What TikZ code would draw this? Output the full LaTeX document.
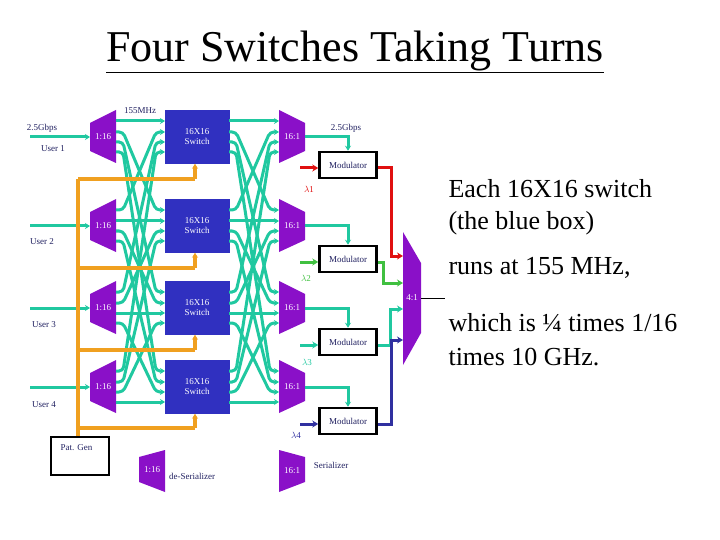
\documentclass[tikz,border=0pt]{standalone}
\usepackage{fontspec}
\setmainfont{Liberation Serif}
\usetikzlibrary{calc,arrows.meta}
\definecolor{teal2}{HTML}{20C8A0}
\definecolor{purp}{HTML}{8A10C8}
\definecolor{sbox}{HTML}{3030C0}
\definecolor{orng}{HTML}{F0A020}
\definecolor{redl}{HTML}{E01010}
\definecolor{grnl}{HTML}{40C040}
\definecolor{blul}{HTML}{3030A0}
\definecolor{navy}{HTML}{202060}
\tikzset{
 tl/.style={teal2,line width=3pt,rounded corners=4pt,-{Stealth[length=5pt,width=6pt]}},
 ol/.style={orng,line width=3.5pt},
 swbox/.style={fill=sbox,draw=sbox,minimum width=64pt,minimum height=53pt,text=white,font=\fontsize{9}{10}\selectfont,align=center,inner sep=0},
 modbox/.style={draw=black,line width=2.5pt,fill=white,minimum width=57pt,minimum height=26pt,text=navy,font=\fontsize{9}{10}\selectfont,inner sep=0},
 lbl/.style={text=navy,font=\fontsize{9}{10}\selectfont},
 big/.style={font=\fontsize{26}{28}\selectfont},
 cl/.style={line width=3pt,-{Stealth[length=6pt,width=7pt]}}
}
\begin{document}
\begin{tikzpicture}[x=1pt,y=-1pt]
\useasboundingbox (0,0) rectangle (720,540);
\node[font=\fontsize{44}{48}\selectfont] (title) at (355,52) {\underline{Four Switches Taking Turns}};
\foreach \i/\c in {1/137,2/226,3/308,4/387}{
  \fill[purp] (90,\c-14) -- (116,\c-27) -- (116,\c+26) -- (90,\c+14) -- cycle;
  \node[text=white,font=\fontsize{9}{10}\selectfont] (dm\i) at (103,\c) {1:16};
  \fill[purp] (279,\c-27) -- (305,\c-14) -- (305,\c+14) -- (279,\c+26) -- cycle;
  \node[text=white,font=\fontsize{9}{10}\selectfont] (mx\i) at (292,\c) {16:1};
  \node[swbox] (sw\i) at (197,\c) {16X16\\Switch};
  \foreach \j/\o in {1/-16,2/-5,3/5,4/15}{
    \coordinate (d\i o\j) at (116,\c+\o);
    \coordinate (s\i i\j) at (165,\c+\o);
    \coordinate (s\i o\j) at (229,\c+\o);
    \coordinate (m\i i\j) at (279,\c+\o);
  }
  \coordinate (u\i) at (30,\c);
  \draw[tl] (u\i) -- (90,\c);
}
\foreach \i in {1,...,4}{\foreach \j in {1,...,4}{
  \draw[tl] (d\i o\j) -- ++(7,0) -- ($(s\j i\i)+(-9,0)$) -- (s\j i\i);
  \draw[tl] (s\i o\j) -- ++(7,0) -- ($(m\j i\i)+(-9,0)$) -- (m\j i\i);
}}
\foreach \i/\c/\m in {1/137/165,2/226/259,3/308/342,4/387/421}{
  \node[modbox] (mod\i) at (348,\m) {Modulator};
  \draw[tl,rounded corners=0pt] (305,\c) -| (mod\i.north);
}
\fill[purp] (403,232) -- (421,263) -- (421,333) -- (403,365) -- cycle;
\node[text=white,font=\fontsize{9}{10}\selectfont] (m41) at (412,298) {4:1};
\coordinate (outend) at (445,298);
\draw[black] (421,298) -- (outend);
\coordinate (l1) at (300,168); \coordinate (l2) at (300,262);
\coordinate (l3) at (300,345); \coordinate (l4) at (300,424);
\draw[cl,redl] (l1) -- (mod1.west|-l1);
\draw[cl,grnl] (l2) -- (mod2.west|-l2);
\draw[cl,teal2] (l3) -- (mod3.west|-l3);
\draw[cl,blul] (l4) -- (mod4.west|-l4);
\draw[cl,redl] (mod1.east|-l1) -- (391,168) -- (391,256) -- (403,256);
\draw[cl,grnl] (mod2.east|-l2) -- (383,262) -- (383,283) -- (403,283);
\draw[cl,teal2] (mod3.east|-l3) -- (390,345) -- (390,309) -- (403,309);
\draw[cl,blul] (mod4.east|-l4) -- (391,424) -- (391,340) -- (403,340);
\node[text=redl,font=\fontsize{9}{10}\selectfont] (lam1) at (309,189) {$\lambda$1};
\node[text=grnl,font=\fontsize{9}{10}\selectfont] (lam2) at (306,278) {$\lambda$2};
\node[text=teal2,font=\fontsize{9}{10}\selectfont] (lam3) at (307,362) {$\lambda$3};
\node[text=blul,font=\fontsize{9}{10}\selectfont] (lam4) at (296,435) {$\lambda$4};
\node[draw=black,line width=2.5pt,minimum width=58pt,minimum height=38pt,inner sep=0] (pg) at (80,456) {};
\node[lbl,anchor=north west] (pgl) at (57,441) {Pat. Gen};
\draw[ol] (pg.north -| 78,0) -- (78,179);
\foreach \i/\y in {1/179,2/268,3/350,4/428}{
  \draw[ol] (78,\y) -- (195,\y);
  \draw[ol,-{Stealth[length=5pt,width=6pt]}] (195,\y) -- (sw\i.south -| 195,0);
}
\fill[purp] (139,457) -- (165,450) -- (165,492) -- (139,482) -- cycle;
\node[text=white,font=\fontsize{9}{10}\selectfont] (lg1) at (152,470) {1:16};
\node[lbl] (lg1t) at (192,476) {de-Serializer};
\fill[purp] (279,450) -- (305,457) -- (305,482) -- (279,492) -- cycle;
\node[text=white,font=\fontsize{9}{10}\selectfont] (lg2) at (292,471) {16:1};
\node[lbl] (lg2t) at (331,465) {Serializer};
\node[lbl] (r1) at (42,128) {2.5Gbps};
\node[lbl] (r2) at (53,149) {User 1};
\node[lbl] (r3) at (42,242) {User 2};
\node[lbl] (r4) at (44,325) {User 3};
\node[lbl] (r5) at (44,405) {User 4};
\node[lbl] (r6) at (140,111) {155MHz};
\node[lbl] (r7) at (346,128) {2.5Gbps};
\node[big,anchor=west] (t1) at (445,189) {Each 16X16 switch};
\node[big,anchor=west] (t2) at (445,223) {(the blue box)};
\node[big,anchor=west] (t3) at (445,268) {runs at 155 MHz,};
\node[big,anchor=west] (t4) at (445,323) {which is ¼ times 1/16};
\node[big,anchor=west] (t5) at (445,357) {times 10 GHz.};
\end{tikzpicture}
\end{document}
